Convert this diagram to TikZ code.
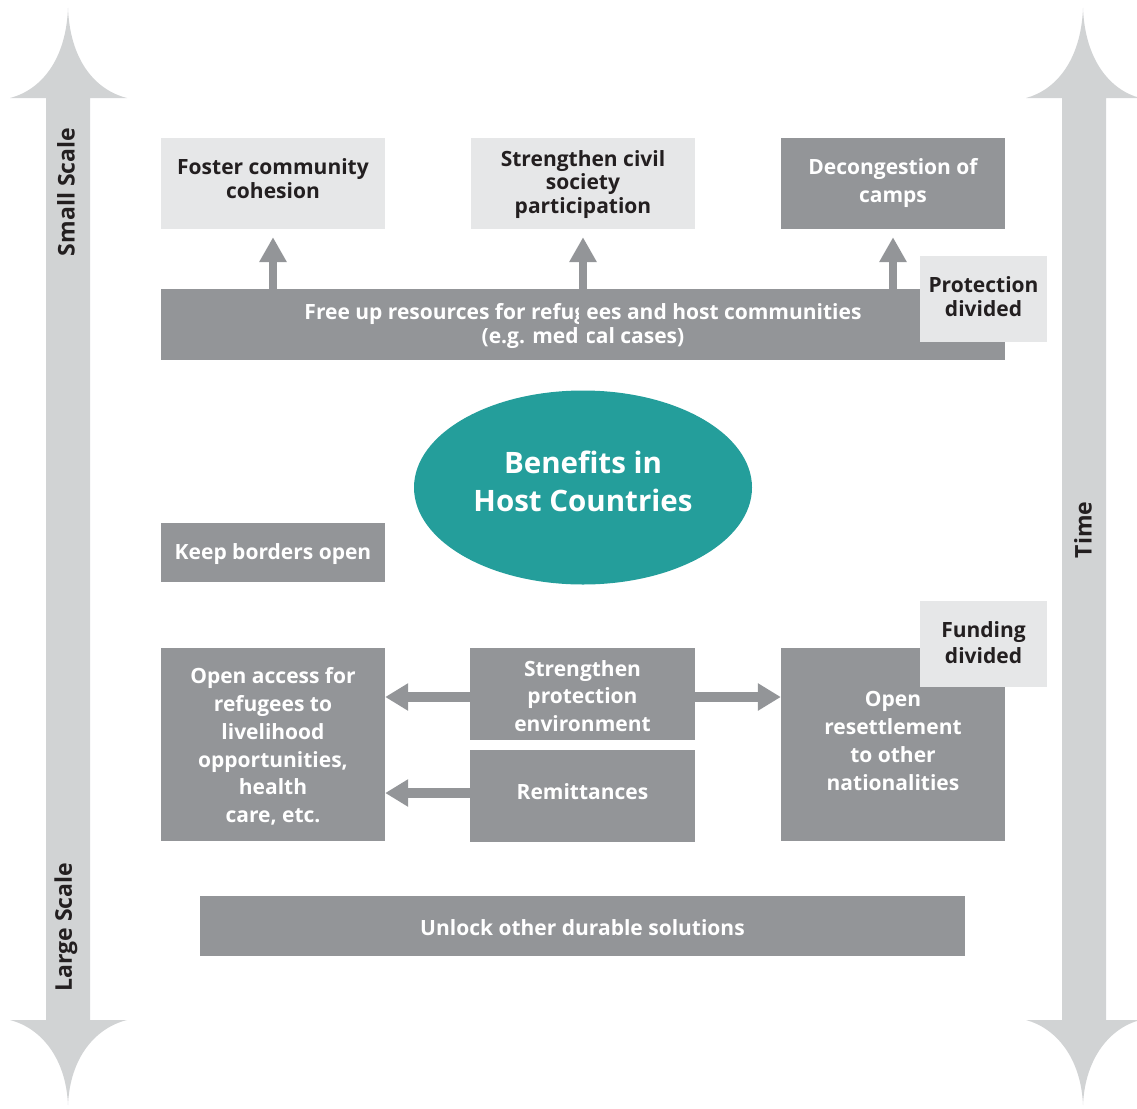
\documentclass[tikz,border=0pt]{standalone}
\usepackage{fontspec}
\setmainfont{Open Sans}
\usetikzlibrary{arrows.meta,shapes.geometric}
\definecolor{dgray}{HTML}{939598}
\definecolor{lgray}{HTML}{E6E7E8}
\definecolor{sgray}{HTML}{D1D3D4}
\definecolor{tealc}{HTML}{249E9B}
\definecolor{ink}{HTML}{231F20}
\tikzset{
  dbox/.style={fill=dgray,inner sep=0pt},
  lbox/.style={fill=lgray,inner sep=0pt},
  dtext/.style={text=white,inner sep=0pt,align=center,font=\bfseries\fontsize{21}{27.7}\selectfont},
  ltext/.style={text=ink,inner sep=0pt,align=center,font=\bfseries\fontsize{21}{23.5}\selectfont},
  uparrow/.style={draw=dgray,line width=8pt,-{Triangle[width=26pt,length=25pt]}},
  harrow/.style={draw=dgray,line width=10pt,-{Triangle[width=26pt,length=23pt]}},
  sidelabel/.style={text=ink,font=\bfseries\fontsize{23}{26}\selectfont,rotate=90}
}
\begin{document}
\begin{tikzpicture}[x=1pt,y=-1pt]
\useasboundingbox (0,0) rectangle (1137,1108);
% side arrows
\fill[sgray] (68,8) .. controls (70,60) and (95,90) .. (127,98) -- (90,98) -- (90,1020) -- (127,1020)
  .. controls (95,1028) and (70,1058) .. (68,1105) .. controls (66,1058) and (41,1028) .. (10,1020)
  -- (46,1020) -- (46,98) -- (10,98) .. controls (41,90) and (66,60) .. (68,8) -- cycle;
\fill[sgray] (1083,8) .. controls (1085,60) and (1110,90) .. (1140,98) -- (1106,98) -- (1106,1020) -- (1140,1020)
  .. controls (1110,1028) and (1085,1058) .. (1083,1105) .. controls (1081,1058) and (1056,1028) .. (1026,1020)
  -- (1062,1020) -- (1062,98) -- (1026,98) .. controls (1056,90) and (1081,60) .. (1083,8) -- cycle;
\node[sidelabel] (small) at (66,192) {Small Scale};
\node[sidelabel] (large) at (66,927) {Large Scale};
\node[sidelabel] (time) at (1083,530) {Time};
% top boxes
\node[lbox,minimum width=224pt,minimum height=91pt] (foster) at (273,183.5) {};
\node[ltext] (fostertext) at ([yshift=5pt]foster.center) {Foster community\\cohesion};
\node[lbox,minimum width=224pt,minimum height=91pt] (civil) at (583,183.5) {};
\node[ltext] (civiltext) at ([yshift=-1pt]civil.center) {Strengthen civil\\society\\participation};
\node[dbox,minimum width=224pt,minimum height=91pt] (decong) at (893,183.5) {};
\node[dtext,font=\bfseries\fontsize{21}{28}\selectfont] (decongtext) at ([yshift=1pt]decong.center) {Decongestion of\\camps};
\node[dbox,minimum width=844pt,minimum height=71pt] (free) at (583,324.5) {};
\node[dtext,font=\bfseries\fontsize{21}{24}\selectfont] (freetext) at ([yshift=-1pt]free.center) {Free up resources for refugees and host communities\\(e.g. medical cases)};
\coordinate (midstart) at (583,347);
\draw[uparrow,shorten >=8pt] (free.north -| foster.south) -- (foster.south);
\draw[uparrow,shorten >=8pt] (midstart) -- (civil.south);
\draw[uparrow,shorten >=8pt] (free.north -| decong.south) -- (decong.south);
\node[lbox,minimum width=127pt,minimum height=86pt] (prot) at (983.5,299) {};
\node[ltext,font=\bfseries\fontsize{21}{24}\selectfont] (prottext) at ([yshift=2pt]prot.center) {Protection\\divided};
% ellipse
\node[ellipse,fill=tealc,minimum width=338pt,minimum height=194pt,inner sep=0pt] (benefits) at (583,487.5) {};
\node[text=white,inner sep=0pt,align=center,font=\bfseries\fontsize{29.5}{38}\selectfont] (benefitstext) at ([yshift=6pt]benefits.center) {Benefits in\\Host Countries};
% lower boxes
\node[dbox,minimum width=224pt,minimum height=59pt] (borders) at (273,552.5) {};
\node[dtext] (borderstext) at ([yshift=-2pt]borders.center) {Keep borders open};
\node[dbox,minimum width=224pt,minimum height=193pt] (access) at (273,744.5) {};
\node[dtext] (accesstext) at ([yshift=-2pt]access.center) {Open access for\\refugees to\\livelihood\\opportunities,\\health\\care, etc.};
\node[dbox,minimum width=225pt,minimum height=92pt] (protenv) at (582.5,694) {};
\node[dtext] (protenvtext) at ([yshift=-2pt]protenv.center) {Strengthen\\protection\\environment};
\node[dbox,minimum width=225pt,minimum height=92pt] (remit) at (582.5,796) {};
\node[dtext] (remittext) at ([yshift=4pt]remit.center) {Remittances};
\node[dbox,minimum width=224pt,minimum height=193pt] (resettle) at (893,744.5) {};
\node[dtext] (resettletext) at (893,741) {Open\\resettlement\\to other\\nationalities};
\node[lbox,minimum width=127pt,minimum height=86pt] (fund) at (983.5,644) {};
\node[ltext,font=\bfseries\fontsize{21}{26}\selectfont] (fundtext) at ([yshift=1pt]fund.center) {Funding\\divided};
\node[dbox,minimum width=765pt,minimum height=60pt] (unlock) at (582.5,926) {};
\node[dtext] (unlocktext) at ([yshift=-2pt]unlock.center) {Unlock other durable solutions};
% horizontal arrows
\draw[harrow] (protenv.west |- 0,697) -- (access.east |- 0,697);
\draw[harrow] (protenv.east |- 0,697) -- (resettle.west |- 0,697);
\draw[harrow] (remit.west |- 0,793) -- (access.east |- 0,793);
\end{tikzpicture}
\end{document}
